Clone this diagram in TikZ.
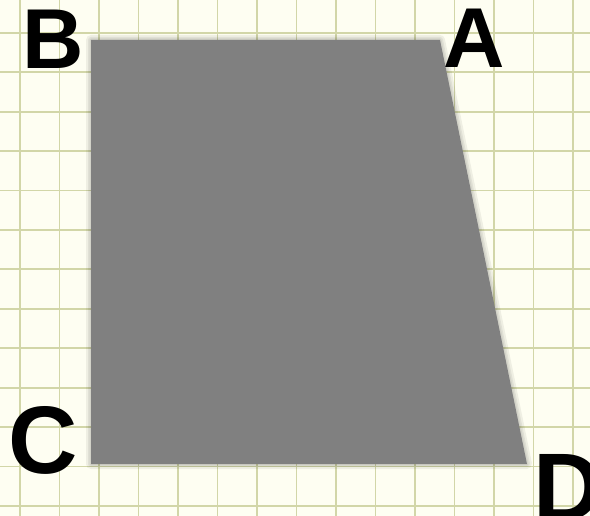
\documentclass[tikz,border=0pt]{standalone}
\usepackage{fontspec}
\setmainfont{Liberation Sans}
\definecolor{paper}{HTML}{FEFEF2}
\definecolor{gridc}{HTML}{D2D6A8}
\definecolor{shapec}{HTML}{808080}
\tikzset{
  gridline/.style={draw=gridc, line width=1.8pt},
  softedge/.style={draw=black, draw opacity=0.06, line join=round},
  vlabel/.style={font=\bfseries\fontsize{85}{85}\selectfont, inner sep=0pt, text=black},
  vlabelbig/.style={font=\bfseries\fontsize{96}{96}\selectfont, inner sep=0pt, text=black},
}
\begin{document}
\begin{tikzpicture}[x=1pt,y=-1pt]
\useasboundingbox (0,0) rectangle (590,516);
\fill[paper] (0,0) rectangle (590,516);
\foreach \i in {0,...,14} {
  \draw[gridline] ({20+39.5*\i},0) -- ({20+39.5*\i},516);
}
\foreach \j in {0,...,12} {
  \draw[gridline] (0,{33+39.4*\j}) -- (590,{33+39.4*\j});
}
\coordinate (B) at (91,40);
\coordinate (A) at (440,40);
\coordinate (D) at (527,464);
\coordinate (C) at (91,464);
\draw[softedge, line width=10pt] (B) -- (A) -- (D) -- (C) -- cycle;
\draw[softedge, line width=6pt] (B) -- (A) -- (D) -- (C) -- cycle;
\draw[softedge, line width=3pt] (B) -- (A) -- (D) -- (C) -- cycle;
\fill[shapec] (B) -- (A) -- (D) -- (C) -- cycle;
\node[vlabel] (lB) at (53.5,39) {B};
\node[vlabel] (lA) at (474,38) {A};
\node[vlabelbig] (lC) at (43.5,440) {C};
\node[vlabelbig] (lD) at (568,487) {D};
\end{tikzpicture}
\end{document}
